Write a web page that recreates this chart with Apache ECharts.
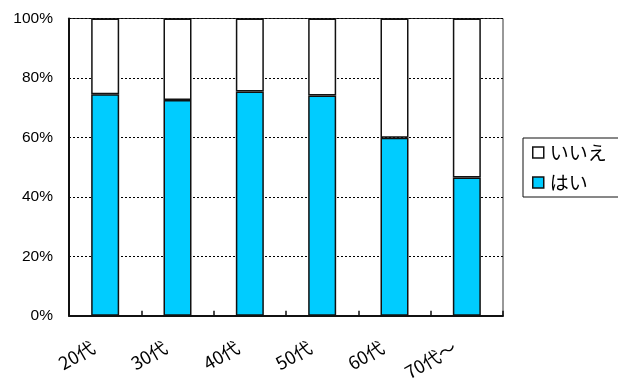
<!DOCTYPE html>
<html>
<head>
<meta charset="utf-8">
<script src="https://cdn.jsdelivr.net/npm/echarts@6/dist/echarts.min.js"></script>
<style>
  html, body { margin: 0; padding: 0; background: #fff; }
  #chart { width: 618px; height: 383px; }
</style>
</head>
<body>
<div id="chart"></div>
<script>
// Age groups and the share (%) answering yes / no
const categories = ['20代', '30代', '40代', '50代', '60代', '70代～'];
const yesValues = [74.5, 72.6, 75.4, 74.1, 59.9, 46.5];
const noValues = [25.5, 27.4, 24.6, 25.9, 40.1, 53.5];
const yTicks = [0, 20, 40, 60, 80, 100];

const chart = echarts.init(document.getElementById('chart'), null, { renderer: 'canvas' });

const barBorder = { borderColor: '#111', borderWidth: 1.5 };

chart.setOption({
  animation: false,
  backgroundColor: '#fff',
  grid: {
    left: 69, right: 115, top: 18.5, bottom: 65,
    show: true, borderColor: '#333', borderWidth: 1, backgroundColor: 'transparent'
  },
  legend: {
    left: 523, top: 138,
    orient: 'vertical',
    data: ['いいえ', 'はい'],
    icon: 'rect',
    itemWidth: 11, itemHeight: 11,
    itemGap: 11,
    padding: [5, 40, 5, 9],
    borderColor: '#111', borderWidth: 1,
    textStyle: { fontFamily: 'Noto Sans CJK JP', fontSize: 19, color: '#000', padding: [0, 0, 0, 1] },
    itemStyle: { borderColor: '#111', borderWidth: 1.5 }
  },
  xAxis: {
    type: 'category',
    data: categories,
    axisLine: { lineStyle: { color: '#111', width: 2 } },
    axisTick: { show: true, inside: true, length: 5, lineStyle: { color: '#111', width: 1.5 } },
    axisLabel: {
      rotate: 30, margin: 23, interval: 0,
      padding: [0, 14, 0, 0],
      fontFamily: 'Noto Sans CJK JP', fontSize: 18, color: '#000'
    },
    splitLine: { show: false }
  },
  yAxis: {
    type: 'value',
    min: yTicks[0], max: yTicks[yTicks.length - 1], interval: 20,
    axisLine: { show: true, lineStyle: { color: '#111', width: 2 } },
    axisTick: { show: false },
    axisLabel: {
      margin: 16, formatter: '{value}%',
      fontFamily: 'Liberation Sans', fontSize: 15.5, color: '#000'
    },
    splitLine: { show: true, lineStyle: { color: '#000', type: [2, 2], width: 1 } }
  },
  series: [
    {
      name: 'はい', type: 'bar', stack: 'total', data: yesValues,
      barWidth: 28,
      itemStyle: Object.assign({ color: '#00CCFF' }, barBorder)
    },
    {
      name: 'いいえ', type: 'bar', stack: 'total', data: noValues,
      barWidth: 28,
      itemStyle: Object.assign({ color: '#FFFFFF' }, barBorder)
    }
  ]
});
</script>
</body>
</html>
